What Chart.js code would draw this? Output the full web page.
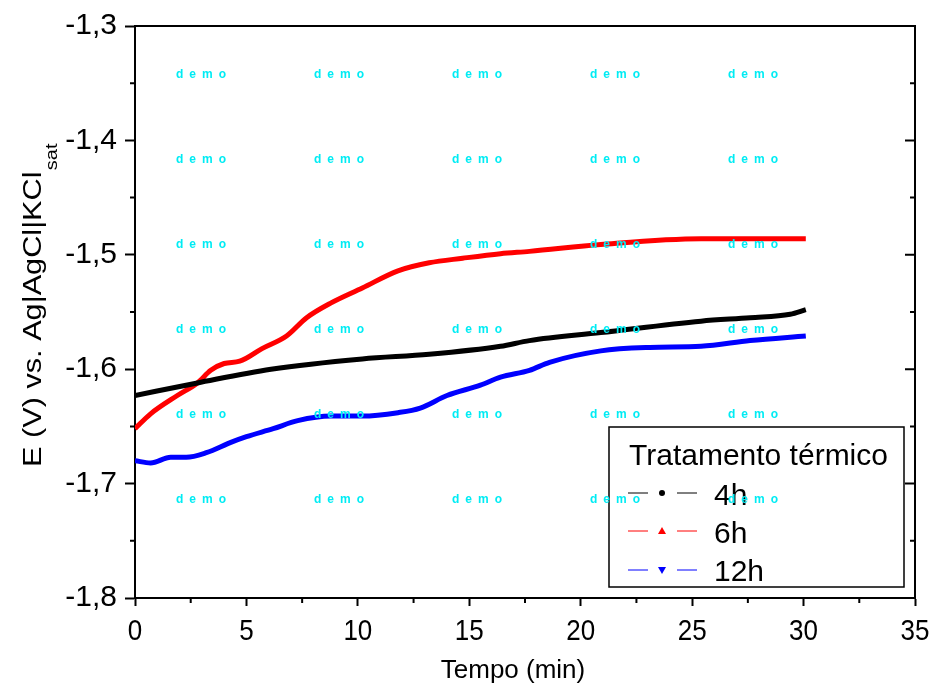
<!DOCTYPE html>
<html>
<head>
<meta charset="utf-8">
<script src="https://cdn.jsdelivr.net/npm/chart.js@4.4.1/dist/chart.umd.min.js"></script>
<style>
  html, body { margin: 0; padding: 0; background: #fff; }
  #wrap { position: relative; width: 936px; height: 686px; }
</style>
</head>
<body>
<div id="wrap"><canvas id="chart" width="936" height="686"></canvas></div>
<script>
// tempo (min) / potencial (V)
const t4h = [0, 2.8, 6.1, 10.2, 13.2, 16.4, 17.7, 20.9, 25.4, 27.6, 29.4, 30.1];
const e4h = [-1.623, -1.612, -1.600, -1.591, -1.587, -1.580, -1.575, -1.568, -1.558, -1.555, -1.552, -1.548];

const t6h = [0, 0.7, 1.9, 2.8, 3.4, 4.0, 4.7, 5.7, 6.8, 7.7, 8.8, 10.2, 11.8, 13.2, 14.7, 16.4, 17.7, 20.9, 25.4, 30.1];
const e6h = [-1.652, -1.639, -1.623, -1.612, -1.601, -1.595, -1.593, -1.582, -1.571, -1.555, -1.542, -1.529, -1.514, -1.507, -1.503, -1.499, -1.497, -1.491, -1.486, -1.486];

const t12h = [0, 0.7, 1.6, 2.3, 3.2, 4.3, 5.0, 6.2, 7.3, 8.8, 10.2, 11.8, 12.8, 14.0, 15.5, 16.4, 17.7, 18.6, 20.9, 23.1, 25.4, 27.6, 30.1];
const e12h = [-1.680, -1.682, -1.677, -1.677, -1.673, -1.664, -1.659, -1.652, -1.645, -1.641, -1.641, -1.638, -1.634, -1.623, -1.614, -1.607, -1.601, -1.594, -1.584, -1.581, -1.580, -1.575, -1.571];

const seriesNames = ["4h", "6h", "12h"];
const seriesColors = ["#000000", "#ff0000", "#0000ff"];
const xTicks = [0, 5, 10, 15, 20, 25, 30, 35];
const yTicks = [-1.8, -1.7, -1.6, -1.5, -1.4, -1.3];

const FONT = "'Liberation Sans', Arial, sans-serif";

const toPoints = (xs, ys) => xs.map((x, i) => ({ x: x, y: ys[i] }));

const frame = {
  id: "frame",
  afterDatasetsDraw(chart) {
    const ctx = chart.ctx;
    const { left, right, top, bottom } = chart.chartArea;
    const xs = chart.scales.x, ys = chart.scales.y;
    ctx.save();
    ctx.strokeStyle = "#000";
    ctx.lineWidth = 2;
    ctx.beginPath();
    ctx.moveTo(left, top); ctx.lineTo(right, top); ctx.lineTo(right, bottom);
    // minor x ticks
    for (let v = 2.5; v < 35; v += 5) {
      const px = xs.getPixelForValue(v);
      ctx.moveTo(px, bottom); ctx.lineTo(px, bottom + 5);
    }
    // minor y ticks + right side ticks
    for (let i = 0; i < yTicks.length; i++) {
      const py = ys.getPixelForValue(yTicks[i]);
      ctx.moveTo(right, py); ctx.lineTo(right - 10, py);
      if (i < yTicks.length - 1) {
        const pm = ys.getPixelForValue(yTicks[i] + 0.05);
        ctx.moveTo(left, pm); ctx.lineTo(left - 5, pm);
        ctx.moveTo(right, pm); ctx.lineTo(right - 5, pm);
      }
    }
    ctx.stroke();
    ctx.restore();
  },
  afterDraw(chart) {
    const ctx = chart.ctx;
    const xs = chart.scales.x;
    ctx.save();
    ctx.fillStyle = "#000";

    // x tick labels (a bit taller than wide, like the original)
    ctx.font = "26px " + FONT;
    ctx.textAlign = "center";
    ctx.textBaseline = "alphabetic";
    xTicks.forEach((v) => {
      ctx.save();
      ctx.translate(xs.getPixelForValue(v), 640);
      ctx.scale(1, 1.17);
      ctx.fillText(String(v), 0, 0);
      ctx.restore();
    });

    // x title
    ctx.font = "26px " + FONT;
    ctx.fillText("Tempo (min)", 513, 678);

    // y title with subscript
    ctx.save();
    ctx.translate(41, 467);
    ctx.rotate(-Math.PI / 2);
    ctx.scale(1.18, 1);
    ctx.textAlign = "left";
    ctx.font = "26px " + FONT;
    const main = "E (V) vs. Ag|AgCl|KCl";
    ctx.fillText(main, 0, 0);
    const w = ctx.measureText(main).width;
    ctx.font = "17px " + FONT;
    ctx.fillText("sat", w + 1, 16);
    ctx.restore();

    // legend
    const bx = 609, by = 427, bw = 295, bh = 160;
    ctx.fillStyle = "#fff";
    ctx.fillRect(bx, by, bw, bh);
    ctx.strokeStyle = "#000";
    ctx.lineWidth = 1.5;
    ctx.strokeRect(bx, by, bw, bh);
    ctx.fillStyle = "#000";
    ctx.font = "30px " + FONT;
    ctx.textAlign = "left";
    ctx.fillText("Tratamento térmico", 629, 465);
    const rowY = [493, 531, 570];
    const textY = [505, 543, 581];
    seriesNames.forEach((name, i) => {
      const c = seriesColors[i], y = rowY[i];
      ctx.strokeStyle = c;
      ctx.fillStyle = c;
      ctx.lineWidth = 1;
      ctx.beginPath();
      ctx.moveTo(628, y); ctx.lineTo(648, y);
      ctx.moveTo(677, y); ctx.lineTo(697, y);
      ctx.stroke();
      ctx.beginPath();
      if (i === 0) {
        ctx.arc(662, y, 3, 0, Math.PI * 2);
      } else if (i === 1) {
        ctx.moveTo(662, y - 4); ctx.lineTo(666, y + 3); ctx.lineTo(658, y + 3);
      } else {
        ctx.moveTo(662, y + 4); ctx.lineTo(666, y - 3); ctx.lineTo(658, y - 3);
      }
      ctx.closePath();
      ctx.fill();
      ctx.fillStyle = "#000";
      ctx.font = "30px " + FONT;
      ctx.fillText(name, 714, textY[i]);
    });

    // "demo" watermark
    ctx.fillStyle = "#00ecf4";
    ctx.font = "bold 12px " + FONT;
    ctx.textAlign = "center";
    ctx.textBaseline = "middle";
    ctx.letterSpacing = "6px";
    for (const wy of [75, 160, 245, 330, 415, 500]) {
      for (const wx of [204, 342, 480, 618, 756]) {
        ctx.fillText("demo", wx, wy);
      }
    }
    ctx.restore();
  }
};

new Chart(document.getElementById("chart"), {
  type: "line",
  data: {
    datasets: [
      { label: seriesNames[0], data: toPoints(t4h, e4h), borderColor: seriesColors[0] },
      { label: seriesNames[1], data: toPoints(t6h, e6h), borderColor: seriesColors[1] },
      { label: seriesNames[2], data: toPoints(t12h, e12h), borderColor: seriesColors[2] }
    ]
  },
  options: {
    responsive: false,
    animation: false,
    devicePixelRatio: 1,
    layout: { padding: { top: 24, right: 21, left: 0, bottom: 0 } },
    elements: {
      point: { radius: 0 },
      line: { borderWidth: 5, cubicInterpolationMode: "monotone", fill: false }
    },
    plugins: { legend: { display: false }, tooltip: { enabled: false } },
    scales: {
      x: {
        type: "linear",
        min: 0, max: 35,
        afterBuildTicks: (s) => { s.ticks = xTicks.map(v => ({ value: v })); },
        afterFit: (s) => { s.height = 88; },
        ticks: { display: false },
        grid: { drawOnChartArea: false, tickLength: 8, tickColor: "#000", tickWidth: 2 },
        border: { color: "#000", width: 2 }
      },
      y: {
        min: -1.8, max: -1.3,
        afterBuildTicks: (s) => { s.ticks = yTicks.map(v => ({ value: v })); },
        afterFit: (s) => { s.width = 135; },
        ticks: {
          color: "#000", font: { size: 30, family: FONT }, padding: 8,
          callback: (v) => v.toFixed(1).replace(".", ",")
        },
        grid: { drawOnChartArea: false, tickLength: 10, tickColor: "#000", tickWidth: 2 },
        border: { color: "#000", width: 2 }
      }
    }
  },
  plugins: [frame]
});
</script>
</body>
</html>
